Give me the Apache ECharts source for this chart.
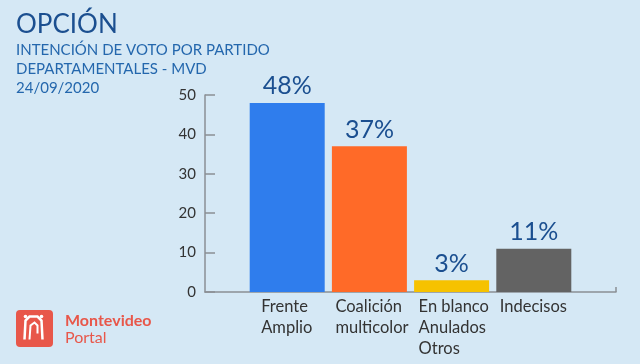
<!DOCTYPE html>
<html><head><meta charset="utf-8">
<script src="https://cdn.jsdelivr.net/npm/echarts@6/dist/echarts.min.js"></script>
<style>html,body{margin:0;padding:0;background:#d5e8f5;}#c{width:640px;height:364px;}</style>
</head><body><div id="c"></div>
<script>
const categories = ['', 'Frente\nAmplio', 'Coalición\nmulticolor', 'En blanco\nAnulados\nOtros', 'Indecisos', ''];
const values = [null, 48, 37, 3, 11, null];
const barColors = ['#2f7ded', '#ff6a28', '#f6c200', '#636363'];
const yTicks = [0, 10, 20, 30, 40, 50];
const titleLines = ['INTENCIÓN DE VOTO POR PARTIDO', 'DEPARTAMENTALES - MVD', '24/09/2020'];

const FONT = 'Lato';
const chart = echarts.init(document.getElementById('c'), null, {renderer: 'canvas'});
const padLeft = [0, 14, 6, 7, 6, 0];
chart.setOption({
  backgroundColor: '#d5e8f5',
  animation: false,
  textStyle: {fontFamily: FONT},
  title: [
    {text: 'OPCIÓN', left: 11, top: 7, textStyle: {fontFamily: FONT, fontSize: 26, fontWeight: 'normal', color: '#1b4f90'}},
    {text: titleLines.join('\n'), left: 11, top: 36, textStyle: {fontFamily: FONT, fontSize: 15, fontWeight: 'normal', color: '#2467ad', lineHeight: 19}}
  ],
  grid: {left: 205, right: 24, top: 95, bottom: 72, outerBoundsMode: 'none', containLabel: false},
  xAxis: {
    type: 'category', data: categories, boundaryGap: false,
    axisLine: {lineStyle: {color: '#8a8f94', width: 1.5}},
    axisTick: {show: true, inside: true, length: 5, interval: (i) => i === categories.length - 1, lineStyle: {color: '#8a8f94', width: 1.5}},
    axisLabel: {
      interval: 0, margin: 4,
      formatter: (v, i) => {
        if (!v) return '';
        return v.split('\n').map(s => '{l' + i + '|' + s + '}').join('\n');
      },
      rich: Object.fromEntries(padLeft.map((p, i) => ['l' + i, {width: 80 - p, align: 'left', padding: [0, 0, 0, p], fontSize: 16.5, lineHeight: 21, color: '#333', fontFamily: FONT}]))
    }
  },
  yAxis: {
    type: 'value', min: 0, max: 50, interval: 10,
    axisLine: {show: true, lineStyle: {color: '#8a8f94', width: 1.5}},
    axisTick: {show: true, inside: true, length: 10, lineStyle: {color: '#8a8f94', width: 1.5}},
    axisLabel: {fontSize: 15, color: '#333', margin: 9, fontFamily: FONT},
    splitLine: {show: false}
  },
  series: [{
    type: 'bar', barWidth: 75,
    data: values.map((v, i) => v == null ? null : {value: v, itemStyle: {color: barColors[i - 1]}}),
    label: {show: true, position: 'top', distance: 4, formatter: '{c}%', fontSize: 25, color: '#1b4f90', fontFamily: FONT}
  }],
  graphic: [
    {type: 'rect', left: 16, top: 310, shape: {width: 37, height: 37, r: 4}, style: {fill: '#e8574a'}},
    {type: 'group', left: 22, top: 314, children: [
      {type: 'polyline', shape: {points: [[6, 26], [7, 7], [11, 3], [19, 3], [23, 7], [24, 26]]}, style: {stroke: '#fff', lineWidth: 2.5, fill: null}},
      {type: 'polyline', shape: {points: [[11, 26], [12, 12], [16, 9], [19, 12], [19, 20]]}, style: {stroke: '#fff', lineWidth: 2, fill: null}},
      {type: 'circle', shape: {cx: 7, cy: 3, r: 1.8}, style: {fill: '#fff'}},
      {type: 'circle', shape: {cx: 23, cy: 3, r: 1.8}, style: {fill: '#fff'}}
    ]},
    {type: 'text', left: 65, top: 313, style: {text: 'Montevideo', font: 'bold 16px Lato', fill: '#e8574a'}},
    {type: 'text', left: 65, top: 330, style: {text: 'Portal', font: '16px Lato', fill: '#e8574a'}}
  ]
});
</script></body></html>
